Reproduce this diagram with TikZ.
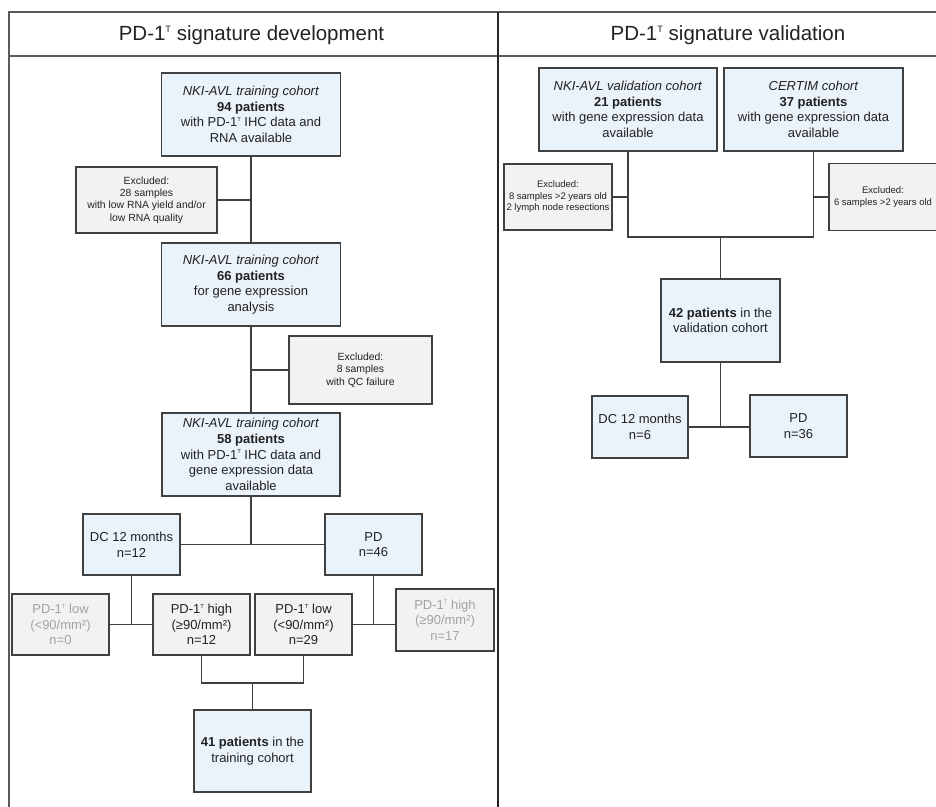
\documentclass[tikz,border=0pt]{standalone}
\usepackage{fontspec}
\setmainfont{Liberation Sans}
\definecolor{boxblue}{HTML}{EAF2FA}
\definecolor{boxgray}{HTML}{F2F2F2}
\definecolor{edgecol}{HTML}{404040}
\definecolor{framecol}{HTML}{5A5A5A}
\definecolor{fadedcol}{HTML}{A3A3A3}
\definecolor{inkcol}{HTML}{222222}
\newcommand{\supT}{\raisebox{0.76ex}{\scalebox{0.45}{T}}}
\newcommand{\mainsize}{\fontsize{13}{15.6}\selectfont}
\newcommand{\smallsz}{\fontsize{10.4}{12.4}\selectfont}
\newcommand{\tinysz}{\fontsize{9.5}{11.5}\selectfont}
\newcommand{\titlesz}{\fontsize{20.5}{24}\selectfont}
\tikzset{
  basebox/.style={draw=edgecol, line width=1.1pt, inner sep=0pt, align=center, font=\mainsize, text=inkcol},
  bluebox/.style={basebox, fill=boxblue},
  graybox/.style={basebox, fill=boxgray},
  exbox/.style={graybox, font=\smallsz},
  exboxr/.style={graybox, font=\tinysz},
  fadedtext/.style={text=fadedcol},
  conn/.style={draw=edgecol, line width=1.1pt},
  framel/.style={draw=framecol, line width=1.4pt},
  titlenode/.style={font=\titlesz, text=inkcol, inner sep=0pt}
}
\begin{document}
\begin{tikzpicture}[x=1pt,y=-1pt]
\useasboundingbox (0,0) rectangle (936,806);
\clip (0,0) rectangle (936,806);
% frame
\draw[framel] (9,810) -- (9,12) -- (940,12);
\draw[framel] (9,56) -- (940,56);
\draw[framel, draw=black!85] (498,12) -- (498,810);
\node[titlenode] (t1) at (251.5,35) {PD-1\supT{} signature development};
\node[titlenode] (t2) at (728,35) {PD-1\supT{} signature validation};

% left panel
\node[bluebox, minimum width=179pt, minimum height=83pt] (b1) at (251,114.5)
  {\textit{NKI-AVL training cohort}\\\textbf{94 patients}\\with PD-1\supT{} IHC data and\\RNA available};
\node[exbox, minimum width=141pt, minimum height=66pt] (ex1) at (146.5,200)
  {Excluded:\\28 samples\\with low RNA yield and/or\\low RNA quality};
\node[bluebox, minimum width=179pt, minimum height=83pt] (b2) at (251,284.5)
  {\textit{NKI-AVL training cohort}\\\textbf{66 patients}\\for gene expression\\analysis};
\node[exbox, minimum width=143pt, minimum height=68pt] (ex2) at (360.5,370)
  {Excluded:\\8 samples\\with QC failure};
\node[bluebox, minimum width=178pt, minimum height=83pt] (b3) at (251,454.5)
  {\textit{NKI-AVL training cohort}\\\textbf{58 patients}\\with PD-1\supT{} IHC data and\\gene expression data\\available};
\node[bluebox, minimum width=97pt, minimum height=61pt] (dc) at (131.5,544.5)
  {DC 12 months\\n=12};
\node[bluebox, minimum width=97pt, minimum height=61pt] (pd) at (373.5,544.5)
  {PD\\n=46};
\node[graybox, fadedtext, minimum width=97pt, minimum height=61pt] (lo0) at (60.5,624.5)
  {PD-1\supT{} low\\(<90/mm²)\\n=0};
\node[graybox, minimum width=97pt, minimum height=61pt] (hi12) at (201.5,624.5)
  {PD-1\supT{} high\\(≥90/mm²)\\n=12};
\node[graybox, minimum width=97pt, minimum height=61pt] (lo29) at (303.5,624.5)
  {PD-1\supT{} low\\(<90/mm²)\\n=29};
\node[graybox, fadedtext, minimum width=98pt, minimum height=62pt] (hi17) at (445,620)
  {PD-1\supT{} high\\(≥90/mm²)\\n=17};
\node[bluebox, minimum width=117pt, minimum height=82pt] (fin) at (252.5,751)
  {\textbf{41 patients} in the\\training cohort};
\coordinate (m1) at (252.5,683);

\draw[conn] (b1.south) -- (b2.north);
\draw[conn] (ex1.east) -- (ex1.east -| b1.south);
\draw[conn] (b2.south) -- (b3.north);
\draw[conn] (ex2.west) -- (ex2.west -| b2.south);
\draw[conn] (b3.south) -- (b3.south |- dc.east);
\draw[conn] (dc.east) -- (pd.west);
\draw[conn] (dc.south) -- (dc.south |- lo0.east);
\draw[conn] (lo0.east) -- (hi12.west);
\draw[conn] (pd.south) -- (pd.south |- lo29.east);
\draw[conn] (lo29.east) -- (lo29.east -| hi17.west);
\draw[conn] (hi12.south) |- (m1) -| (lo29.south);
\draw[conn] (m1) -- (fin.north);

% right panel
\node[bluebox, minimum width=178pt, minimum height=83pt] (v1) at (628,109.5)
  {\textit{NKI-AVL validation cohort}\\\textbf{21 patients}\\with gene expression data\\available};
\node[bluebox, minimum width=179pt, minimum height=83pt] (v2) at (813.5,109.5)
  {\textit{CERTIM cohort}\\\textbf{37 patients}\\with gene expression data\\available};
\node[exboxr, minimum width=108pt, minimum height=66pt] (vex1) at (558,197)
  {Excluded:\\8 samples >2 years old\\2 lymph node resections};
\node[exboxr, minimum width=108pt, minimum height=67pt] (vex2) at (883,197)
  {Excluded:\\6 samples >2 years old};
\node[bluebox, minimum width=119pt, minimum height=83pt] (v3) at (720.5,320.5)
  {\textbf{42 patients} in the\\validation cohort};
\node[bluebox, minimum width=96pt, minimum height=62pt] (vdc) at (640,427)
  {DC 12 months\\n=6};
\node[bluebox, minimum width=97pt, minimum height=62pt] (vpd) at (798.5,426)
  {PD\\n=36};
\coordinate (m2) at (720.5,237);

\draw[conn] (v1.south) |- (m2) -| (v2.south);
\draw[conn] (m2) -- (v3.north);
\draw[conn] (vex1.east) -- (vex1.east -| v1.south);
\draw[conn] (vex2.west) -- (vex2.west -| v2.south);
\draw[conn] (v3.south) -- (v3.south |- vdc.east);
\draw[conn] (vdc.east) -- (vdc.east -| vpd.west);
\end{tikzpicture}
\end{document}
